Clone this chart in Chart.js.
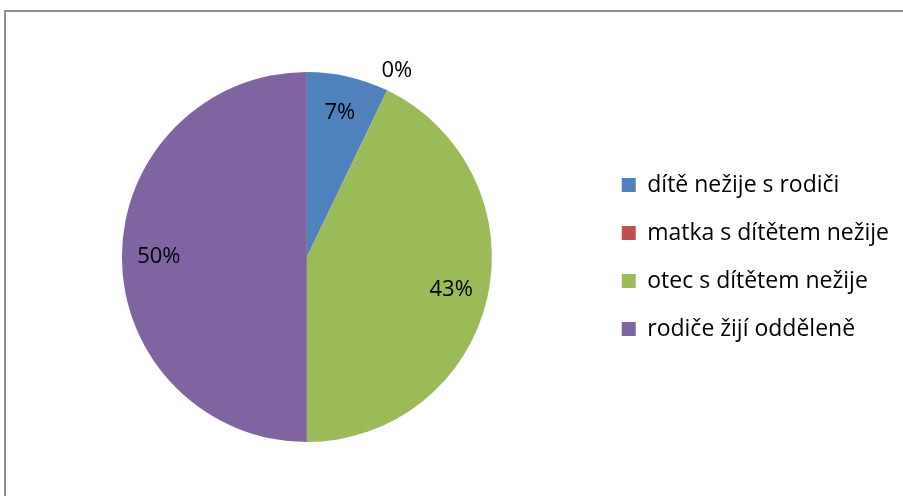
<!DOCTYPE html>
<html>
<head>
<meta charset="utf-8">
<script src="https://cdn.jsdelivr.net/npm/chart.js@4"></script>
<style>
  html, body { margin: 0; padding: 0; background: #fff; }
  #frame {
    position: absolute; left: 4px; top: 10px; width: 903px; height: 490px;
    border-left: 2px solid #8e8e8e; border-top: 2px solid #8e8e8e;
  }
  #wrap { position: absolute; left: 0; top: 0; width: 903px; height: 496px; }
</style>
</head>
<body>
<div id="frame"></div>
<div id="wrap"><canvas id="chart"></canvas></div>
<script>
// categories and counts (7%, 0%, 43%, 50%)
const categories = ['dítě nežije s rodiči', 'matka s dítětem nežije', 'otec s dítětem nežije', 'rodiče žijí odděleně'];
const counts = [1, 0, 6, 7];
const sliceColors = ['#4f81bd', '#c0504d', '#9bbb59', '#8064a2'];

const fontFamily = '"Open Sans", "Liberation Sans", sans-serif';

// percentage labels drawn at each arc's middle
const pctLabels = {
  id: 'pctLabels',
  afterDatasetsDraw(chart) {
    const ctx = chart.ctx;
    const meta = chart.getDatasetMeta(0);
    const total = counts.reduce((a, b) => a + b, 0);
    ctx.save();
    ctx.font = '22px ' + fontFamily;
    ctx.fillStyle = '#000';
    ctx.textAlign = 'center';
    ctx.textBaseline = 'middle';
    meta.data.forEach((arc, i) => {
      const p = arc.getProps(['x', 'y', 'startAngle', 'endAngle', 'outerRadius'], true);
      const mid = (p.startAngle + p.endAngle) / 2;
      const r = counts[i] === 0 ? p.outerRadius * 1.12 : p.outerRadius * 0.8;
      const x = p.x + Math.cos(mid) * r;
      const y = p.y + Math.sin(mid) * r;
      ctx.fillText(Math.round(counts[i] / total * 100) + '%', x, y);
    });
    ctx.restore();
  }
};

new Chart(document.getElementById('chart'), {
  type: 'pie',
  data: {
    labels: categories,
    datasets: [{
      data: counts,
      backgroundColor: sliceColors,
      borderWidth: 0
    }]
  },
  options: {
    responsive: true,
    maintainAspectRatio: false,
    animation: false,
    layout: { padding: { left: 17, top: 72, bottom: 54, right: 4 } },
    plugins: {
      tooltip: { enabled: false },
      legend: {
        position: 'right',
        labels: {
          boxWidth: 14,
          boxHeight: 14,
          padding: 25,
          color: '#000',
          font: { family: fontFamily, size: 23 }
        }
      }
    }
  },
  plugins: [pctLabels]
});
</script>
</body>
</html>
